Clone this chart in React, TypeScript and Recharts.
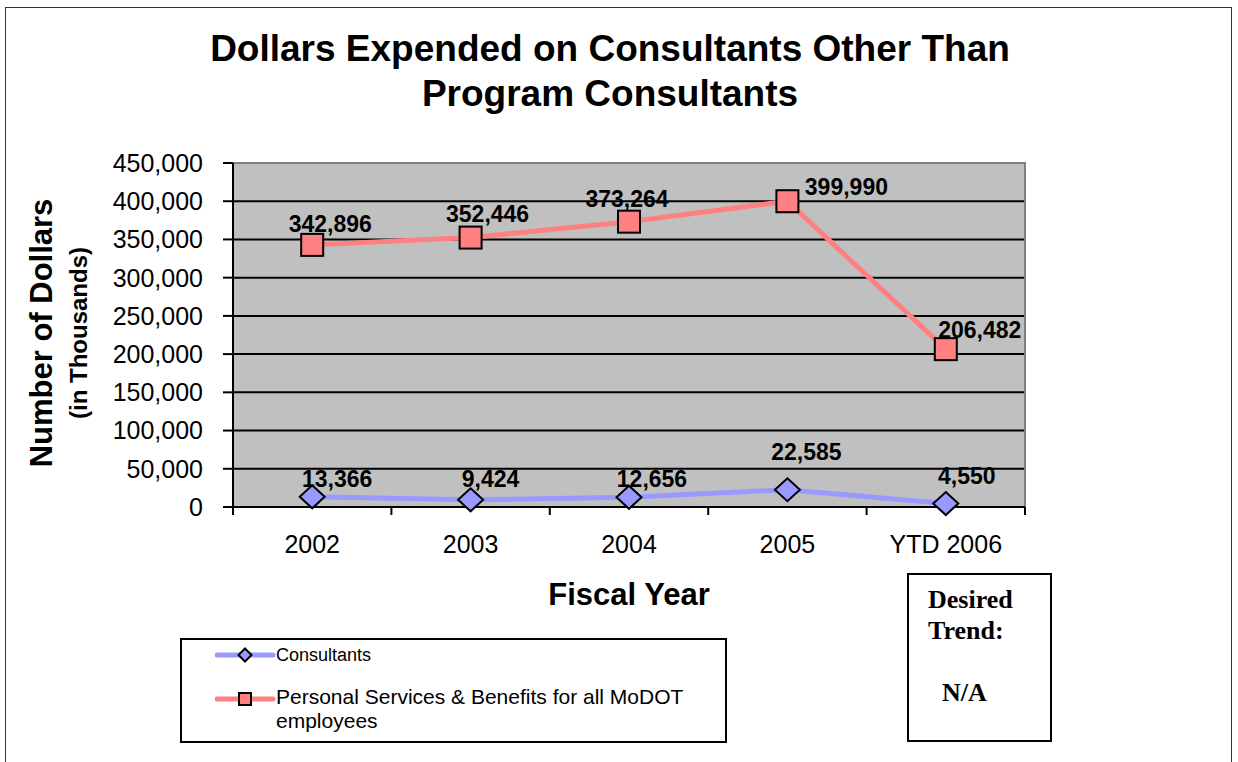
import React from 'react';
import { LineChart, Line, XAxis, YAxis, CartesianGrid, LabelList, ReferenceArea } from 'recharts';

const years = ['2002', '2003', '2004', '2005', 'YTD 2006'];
const consultants = [13366, 9424, 12656, 22585, 4550];
const personalServices = [342896, 352446, 373264, 399990, 206482];
const yTicks = [0, 50000, 100000, 150000, 200000, 250000, 300000, 350000, 400000, 450000];

// label nudges (dx, dy from the point), Excel placed them a bit irregularly
const consultantNudge = [[25, -10], [20, -13], [23, -10], [19, -30], [21, -20]];
const personalNudge = [[18, -13], [17, -16], [-2, -15], [59, -6], [34, -11]];

const ARIAL = '"Liberation Sans", Arial, sans-serif';
const TIMES = '"Liberation Serif", "Times New Roman", serif';
const BLUE = '#9999FF';
const PINK = '#FF8080';

const chartData = years.map((y, i) => ({
  year: y,
  consultants: consultants[i],
  personal: personalServices[i],
}));

const fmt = (v: number) => v.toLocaleString('en-US');

const Diamond = ({ cx, cy, w = 25, h = 23 }: any) => (
  <polygon
    points={`${cx},${cy - h / 2} ${cx + w / 2},${cy} ${cx},${cy + h / 2} ${cx - w / 2},${cy}`}
    fill={BLUE}
    stroke="#000"
    strokeWidth={2}
  />
);

const Square = ({ cx, cy, s = 22 }: any) => (
  <rect x={cx - s / 2} y={cy - s / 2} width={s} height={s} fill={PINK} stroke="#000" strokeWidth={2} />
);

const makeLabel = (nudge: number[][]) => (props: any) => {
  const { x, y, value, index } = props;
  const [dx, dy] = nudge[index] || [0, -10];
  return (
    <text
      x={x + dx}
      y={y + dy}
      textAnchor="middle"
      fontFamily={ARIAL}
      fontWeight="bold"
      fontSize={23}
      fill="#000"
    >
      {fmt(value)}
    </text>
  );
};

const XTick = (props: any) => {
  const { x, y, payload, index } = props;
  const off = payload.offset || 0;
  return (
    <g>
      <line x1={x - off} y1={y - 8} x2={x - off} y2={y} stroke="#000" strokeWidth={2} />
      {index === years.length - 1 && (
        <line x1={x + off} y1={y - 8} x2={x + off} y2={y} stroke="#000" strokeWidth={2} />
      )}
      <text x={x} y={y + 38} textAnchor="middle" fontFamily={ARIAL} fontSize={25} fill="#000">
        {payload.value}
      </text>
    </g>
  );
};

const YTitle = (props: any) => {
  const vb = props.viewBox || { x: 0, y: 163, width: 233, height: 344 };
  const cy = vb.y + vb.height / 2 - 2;
  return (
    <g>
      <text
        x={41}
        y={cy}
        transform={`rotate(-90, 41, ${cy})`}
        textAnchor="middle"
        dominantBaseline="central"
        fontFamily={ARIAL}
        fontWeight="bold"
        fontSize={31}
        fill="#000"
      >
        Number of Dollars
      </text>
      <text
        x={78}
        y={cy}
        transform={`rotate(-90, 78, ${cy})`}
        textAnchor="middle"
        dominantBaseline="central"
        fontFamily={ARIAL}
        fontWeight="bold"
        fontSize={24}
        fill="#000"
      >
        (in Thousands)
      </text>
    </g>
  );
};

const XTitle = (props: any) => {
  const vb = props.viewBox || { x: 233, y: 507, width: 792, height: 60 };
  return (
    <text
      x={vb.x + vb.width / 2}
      y={605}
      textAnchor="middle"
      fontFamily={ARIAL}
      fontWeight="bold"
      fontSize={31}
      fill="#000"
    >
      Fiscal Year
    </text>
  );
};

const LegendBox = () => (
  <div
    style={{
      position: 'absolute',
      left: 180,
      top: 638,
      width: 543,
      height: 101,
      border: '2px solid #000',
      fontFamily: ARIAL,
      color: '#000',
    }}
  >
    <svg width={70} height={100} style={{ position: 'absolute', left: 33, top: 0 }}>
      <line x1={2} y1={15} x2={58} y2={15} stroke={BLUE} strokeWidth={5} strokeLinecap="round" />
      <Diamond cx={30} cy={15} w={13} h={13} />
      <line x1={2} y1={59} x2={58} y2={59} stroke={PINK} strokeWidth={5} strokeLinecap="round" />
      <Square cx={30} cy={59} s={12} />
    </svg>
    <div style={{ position: 'absolute', left: 94, top: 4, fontSize: 18, lineHeight: '22px' }}>Consultants</div>
    <div style={{ position: 'absolute', left: 94, top: 45, fontSize: 21, lineHeight: '24px', width: 440 }}>
      Personal Services &amp; Benefits for all MoDOT employees
    </div>
  </div>
);

const TrendBox = () => (
  <div
    style={{
      position: 'absolute',
      left: 907,
      top: 573,
      width: 141,
      height: 165,
      border: '2px solid #000',
      fontFamily: TIMES,
      fontWeight: 'bold',
      fontSize: 26,
      color: '#000',
    }}
  >
    <div style={{ position: 'absolute', left: 19, top: 9, lineHeight: '31px' }}>
      Desired
      <br />
      Trend:
    </div>
    <div style={{ position: 'absolute', left: 33, top: 102, lineHeight: '31px' }}>N/A</div>
  </div>
);

export default function App() {
  return (
    <div style={{ position: 'absolute', left: 0, top: 0, width: 1238, height: 762, background: '#fff' }}>
      <div
        style={{
          position: 'absolute',
          left: 5,
          top: 7,
          width: 1225,
          height: 770,
          borderLeft: '1px solid #333',
          borderTop: '1px solid #333',
          borderRight: '1px solid #333',
        }}
      />
      <div
        style={{
          position: 'absolute',
          left: 210,
          top: 26,
          width: 800,
          textAlign: 'center',
          fontFamily: ARIAL,
          fontWeight: 'bold',
          fontSize: 37,
          lineHeight: '45px',
          color: '#000',
        }}
      >
        Dollars Expended on Consultants Other Than
        <br />
        Program Consultants
      </div>
      <div style={{ position: 'absolute', left: 0, top: 0 }}>
        <LineChart
          width={1238}
          height={762}
          data={chartData}
          margin={{ top: 163, right: 213, bottom: 195, left: 0 }}
        >
          <CartesianGrid vertical={false} fill="#C0C0C0" fillOpacity={1} stroke="#000" strokeWidth={2} />
          <ReferenceArea y1={0} y2={450000} fill="none" stroke="#808080" strokeWidth={2} ifOverflow="visible" />
          <XAxis
            dataKey="year"
            scale="band"
            height={60}
            tickLine={false}
            tickSize={8}
            tickMargin={0}
            axisLine={{ stroke: '#000', strokeWidth: 2 }}
            tick={<XTick />}
            interval={0}
            label={<XTitle />}
          />
          <YAxis
            width={233}
            domain={[0, 450000]}
            ticks={yTicks}
            interval={0}
            tickFormatter={fmt}
            tickSize={10}
            tickMargin={20}
            axisLine={{ stroke: '#000', strokeWidth: 2 }}
            tickLine={{ stroke: '#000', strokeWidth: 2 }}
            tick={{ fontFamily: ARIAL, fontSize: 25, fill: '#000' }}
            label={<YTitle />}
          />
          <Line
            dataKey="consultants"
            stroke={BLUE}
            strokeWidth={5}
            isAnimationActive={false}
            dot={(p: any) => <Diamond key={`c${p.index}`} cx={p.cx} cy={p.cy} />}
            activeDot={false}
          >
            <LabelList dataKey="consultants" content={makeLabel(consultantNudge)} />
          </Line>
          <Line
            dataKey="personal"
            stroke={PINK}
            strokeWidth={5}
            isAnimationActive={false}
            dot={(p: any) => <Square key={`p${p.index}`} cx={p.cx} cy={p.cy} />}
            activeDot={false}
          >
            <LabelList dataKey="personal" content={makeLabel(personalNudge)} />
          </Line>
        </LineChart>
      </div>
      <LegendBox />
      <TrendBox />
    </div>
  );
}
